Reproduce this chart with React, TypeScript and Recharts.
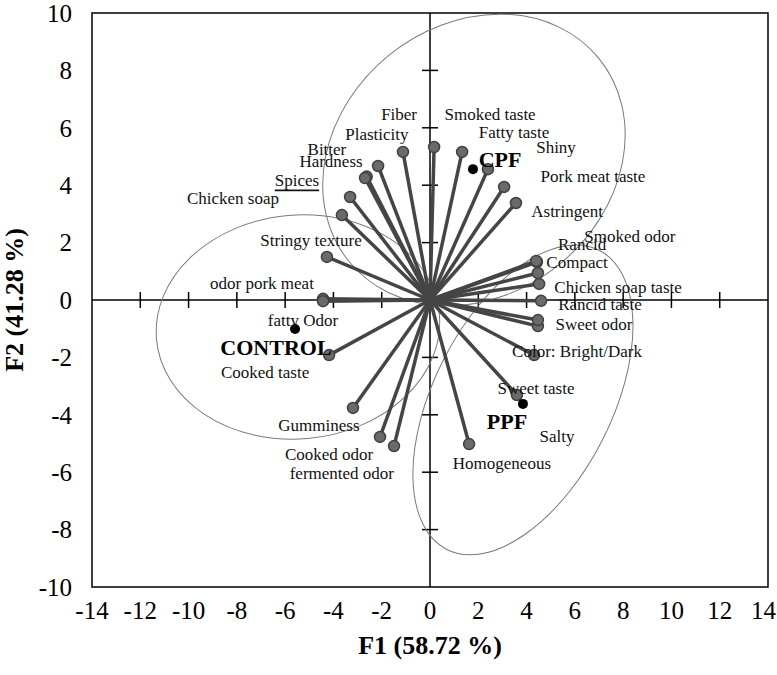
import { ScatterChart, Scatter, XAxis, YAxis, ReferenceLine, ReferenceArea } from "recharts";

// sensory attributes (variable loadings on F1/F2)
const variables = [
  "Fiber", "Plasticity", "Bitter", "Hardness", "Spices", "Chicken soap", "Stringy texture",
  "odor pork meat", "fatty Odor", "Cooked taste", "Gumminess", "Cooked odor", "fermented odor",
  "Homogeneous", "Sweet taste", "Color: Bright/Dark", "Salty", "Sweet odor", "Rancid taste",
  "Chicken soap taste", "Compact", "Rancid", "Smoked odor", "Astringent", "Pork meat taste",
  "Shiny", "Fatty taste", "Smoked taste",
];
const loadF1 = [
  -1.12, -2.15, -2.62, -2.69, -3.31, -3.65, -4.27,
  -4.43, -4.43, -4.18, -3.19, -2.07, -1.49,
  1.62, 3.6, 4.31, 4.47, 4.47, 4.6,
  4.52, 4.47, 4.43, 4.4, 3.56, 3.07,
  2.4, 1.33, 0.17,
];
const loadF2 = [
  5.16, 4.67, 4.3, 4.25, 3.59, 2.96, 1.5,
  0.04, -0.04, -1.92, -3.76, -4.77, -5.09,
  -5.02, -3.31, -1.92, -0.91, -0.7, -0.03,
  0.56, 0.94, 1.32, 1.36, 3.38, 3.94,
  4.56, 5.16, 5.33,
];
// where each attribute name is written
const labelF1 = [
  -1.28, -2.2, -4.27, -4.1, -5.51, -8.16, -4.93,
  -6.96, -5.26, -6.83, -4.6, -4.18, -3.65,
  2.98, 4.39, 6.09, 5.26, 6.79, 7.04,
  7.79, 6.09, 6.3, 8.28, 5.68, 6.75,
  5.22, 3.48, 2.49,
];
const labelF2 = [
  6.45, 5.75, 5.23, 4.84, 4.18, 3.55, 2.09,
  0.59, -0.7, -2.51, -4.39, -5.37, -6.06,
  -5.68, -3.07, -1.78, -4.74, -0.87, -0.14,
  0.45, 1.32, 1.95, 2.2, 3.07, 4.29,
  5.3, 5.82, 6.45,
];

// samples
const samples = ["CPF", "CONTROL", "PPF"];
const sampleF1 = [1.78, -5.59, 3.85];
const sampleF2 = [4.56, -1.01, -3.62];
const sampleLabelF1 = [2.9, -6.38, 3.19];
const sampleLabelF2 = [4.91, -1.67, -4.25];

// group outlines: centre, semi axes (axis units), tilt (deg)
const groupCenterF1 = [1.82, -5.47, 3.85];
const groupCenterF2 = [4.88, -0.94, -3.48];
const groupRadiusF1 = [6.67, 5.88, 3.69];
const groupRadiusF2 = [4.7, 3.9, 5.85];
const groupTilt = [-39, -5, 27];

const xTicks = [-14, -12, -10, -8, -6, -4, -2, 0, 2, 4, 6, 8, 10, 12, 14];
const yTicks = [-10, -8, -6, -4, -2, 0, 2, 4, 6, 8, 10];

const W = 777;
const H = 675;
const M = { top: 13, right: 9, left: 8, bottom: 8 };
const Y_W = 84;
const X_H = 80;
const PX_X = (W - M.left - M.right - Y_W) / 28;
const PX_Y = (H - M.top - M.bottom - X_H) / 20;

const serif = "'Liberation Serif', 'Times New Roman', serif";

const varData = variables.map((name, i) => ({ name, x: loadF1[i], y: loadF2[i] }));
const varLabels = variables.map((name, i) => ({ name, x: labelF1[i], y: labelF2[i] }));
const sampleData = samples.map((name, i) => ({ name, x: sampleF1[i], y: sampleF2[i] }));
const sampleLabels = samples.map((name, i) => ({ name, x: sampleLabelF1[i], y: sampleLabelF2[i] }));
const groups = groupCenterF1.map((x, i) => ({
  x, y: groupCenterF2[i], rx: groupRadiusF1[i], ry: groupRadiusF2[i], tilt: groupTilt[i],
}));
const hTicks = xTicks.filter((t) => Math.abs(t) !== 14 && t !== 0).map((x) => ({ x, y: 0 }));
const vTicks = yTicks.filter((t) => Math.abs(t) !== 10 && t !== 0).map((y) => ({ x: 0, y }));

const XTick = (props: any) => {
  const { x, y, payload } = props;
  const last = payload.value === xTicks[xTicks.length - 1];
  return (
    <text x={last ? x + 8 : x} y={y + 12} textAnchor={last ? "end" : "middle"} dominantBaseline="hanging"
      fontFamily={serif} fontSize={25} fill="#000">
      {payload.value}
    </text>
  );
};

const XTitle = (props: any) => {
  const vb = props.viewBox;
  return (
    <text x={vb.x + vb.width / 2} y={vb.y + 58} textAnchor="middle" dominantBaseline="central"
      fontFamily={serif} fontWeight="bold" fontSize={26} fill="#000">
      F1 (58.72 %)
    </text>
  );
};

const YTitle = (props: any) => {
  const vb = props.viewBox;
  const cx = 14;
  const cy = vb.y + vb.height / 2;
  return (
    <text x={cx} y={cy} transform={`rotate(-90 ${cx} ${cy})`} textAnchor="middle" dominantBaseline="central"
      fontFamily={serif} fontWeight="bold" fontSize={26} fill="#000">
      F2 (41.28 %)
    </text>
  );
};

const App = () => {
  return (
    <>
      <style>{"body{margin:0}"}</style>
      <ScatterChart width={W} height={H} margin={M}>
        <XAxis type="number" dataKey="x" domain={[-14, 14]} ticks={xTicks} interval={0} height={X_H}
          axisLine={false} tickLine={false} tickSize={0} tick={XTick} label={XTitle} />
        <YAxis type="number" dataKey="y" domain={[-10, 10]} ticks={yTicks} interval={0} width={Y_W}
          axisLine={false} tickLine={false} tickSize={0} tickMargin={20}
          tick={{ fontSize: 25, fill: "#000", fontFamily: serif }} label={YTitle} />
        <ReferenceArea x1={-14} x2={14} y1={-10} y2={10} fill="none" fillOpacity={0} stroke="#000" strokeWidth={1.5} />
        <ReferenceLine x={0} stroke="#000" strokeWidth={1.5} />
        <ReferenceLine y={0} stroke="#000" strokeWidth={1.5} />
        <Scatter data={hTicks} isAnimationActive={false}
          shape={(p: any) => <line x1={p.cx} x2={p.cx} y1={p.cy - 8} y2={p.cy + 8} stroke="#000" strokeWidth={1.5} />} />
        <Scatter data={vTicks} isAnimationActive={false}
          shape={(p: any) => <line x1={p.cx - 8} x2={p.cx + 8} y1={p.cy} y2={p.cy} stroke="#000" strokeWidth={1.5} />} />
        <Scatter data={groups} isAnimationActive={false}
          shape={(p: any) => (
            <ellipse cx={p.cx} cy={p.cy} rx={p.payload.rx * PX_X} ry={p.payload.ry * PX_Y}
              transform={`rotate(${p.payload.tilt} ${p.cx} ${p.cy})`} fill="none" stroke="#7a7a7a" strokeWidth={1} />
          )} />
        <Scatter data={varData} isAnimationActive={false}
          shape={(p: any) => (
            <line x1={p.cx - p.payload.x * PX_X} y1={p.cy + p.payload.y * PX_Y} x2={p.cx} y2={p.cy}
              stroke="#454545" strokeWidth={3.5} />
          )} />
        <Scatter data={varData} isAnimationActive={false}
          shape={(p: any) => <circle cx={p.cx} cy={p.cy} r={5.5} fill="#6a6a6a" stroke="#404040" strokeWidth={1.5} />} />
        <Scatter data={sampleData} isAnimationActive={false}
          shape={(p: any) => <circle cx={p.cx} cy={p.cy} r={5} fill="#000" />} />
        <Scatter data={varLabels} isAnimationActive={false}
          shape={(p: any) => (
            <text x={p.cx} y={p.cy} textAnchor="middle" dominantBaseline="central" fontFamily={serif}
              fontSize={17} fill="#111" textDecoration={p.payload.name === "Spices" ? "underline" : undefined}>
              {p.payload.name}
            </text>
          )} />
        <Scatter data={sampleLabels} isAnimationActive={false}
          shape={(p: any) => (
            <text x={p.cx} y={p.cy} textAnchor="middle" dominantBaseline="central" fontFamily={serif}
              fontSize={22} fontWeight="bold" fill="#000">
              {p.payload.name}
            </text>
          )} />
      </ScatterChart>
    </>
  );
};

export default App;
